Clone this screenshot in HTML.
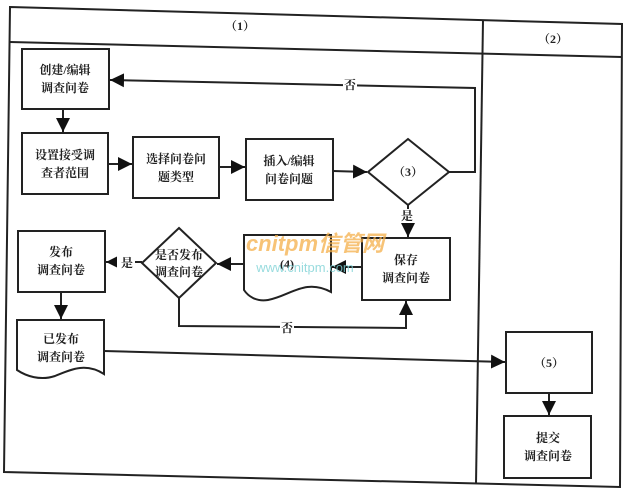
<!DOCTYPE html>
<html><head><meta charset="utf-8"><style>
html,body{margin:0;padding:0;background:#fff;}
svg{display:block}
text{font-family:"Liberation Serif","Noto Serif CJK SC","Noto Sans CJK SC",serif;font-weight:bold;font-size:12px;fill:#222;text-anchor:middle}
</style></head><body>
<svg width="625" height="492" viewBox="0 0 625 492" xmlns="http://www.w3.org/2000/svg">
<defs><marker id="a" viewBox="0 0 10 10" refX="10" refY="5" markerWidth="7" markerHeight="7" orient="auto"><path d="M0,0L10,5L0,10z" fill="#111"/></marker></defs>
<g stroke="#222" stroke-width="2" fill="none">
<!-- frame -->
<path d="M10,7 L622,24 L620,487 L4,472 Z"/>
<line x1="10" y1="42" x2="622" y2="57"/>
<line x1="483" y1="20" x2="476" y2="484"/>
<!-- boxes -->
<rect x="22" y="49" width="87" height="60"/>
<rect x="22" y="133" width="86" height="61"/>
<rect x="133" y="137" width="86" height="61"/>
<rect x="246" y="139" width="87" height="61"/>
<path d="M408,139 L449,172 L408,205 L368,172 Z"/>
<rect x="362" y="238" width="88" height="62"/>
<path d="M244,235 L331,235 L331,292 C305,278 290,296 268,300 C256,302 248,296 244,290 Z"/>
<path d="M179,228 L216,263 L179,298 L142,263 Z"/>
<rect x="18" y="231" width="87" height="61"/>
<path d="M17,320 L104,320 L104,374 C85,362 70,370 55,376 C40,381 26,376 17,370 Z"/>
<rect x="506" y="332" width="86" height="61"/>
<rect x="504" y="416" width="87" height="62"/>
<!-- connectors -->
<line x1="63" y1="109" x2="63" y2="132" marker-end="url(#a)"/>
<line x1="108" y1="164" x2="132" y2="164" marker-end="url(#a)"/>
<line x1="219" y1="167" x2="245" y2="167" marker-end="url(#a)"/>
<line x1="333" y1="171" x2="367" y2="172" marker-end="url(#a)"/>
<polyline points="449,172 475,172 475,88 110,80" marker-end="url(#a)"/>
<line x1="408" y1="205" x2="408" y2="237" marker-end="url(#a)"/>
<line x1="362" y1="267" x2="332" y2="267" marker-end="url(#a)"/>
<line x1="244" y1="264" x2="217" y2="264" marker-end="url(#a)"/>
<line x1="142" y1="262" x2="106" y2="262" marker-end="url(#a)"/>
<polyline points="179,298 179,326 406,328 406,301" marker-end="url(#a)"/>
<line x1="61" y1="292" x2="61" y2="319" marker-end="url(#a)"/>
<line x1="104" y1="351" x2="505" y2="362" marker-end="url(#a)"/>
<line x1="549" y1="393" x2="549" y2="415" marker-end="url(#a)"/>
</g>
<g fill="#fff" stroke="none">
<rect x="343" y="77" width="14" height="14"/>
<rect x="398" y="209" width="18" height="14"/>
<rect x="117" y="255" width="18" height="14"/>
<rect x="280" y="320" width="14" height="14"/>
</g>
<text x="240" y="30">（1）</text>
<text x="553" y="43">（2）</text>
<text x="65" y="74">创建/编辑</text><text x="65" y="92">调查问卷</text>
<text x="65" y="159">设置接受调</text><text x="65" y="177">查者范围</text>
<text x="176" y="163">选择问卷问</text><text x="176" y="181">题类型</text>
<text x="289" y="165">插入/编辑</text><text x="289" y="183">问卷问题</text>
<text x="408" y="176">（3）</text>
<text x="350" y="89">否</text>
<text x="407" y="220">是</text>
<text x="406" y="264">保存</text><text x="406" y="282">调查问卷</text>
<text x="287" y="268">(4)</text>
<text x="179" y="259">是否发布</text><text x="179" y="276">调查问卷</text>
<text x="127" y="267">是</text>
<text x="287" y="332">否</text>
<text x="61" y="256">发布</text><text x="61" y="274">调查问卷</text>
<text x="61" y="343">已发布</text><text x="61" y="361">调查问卷</text>
<text x="549" y="367">（5）</text>
<text x="548" y="442">提交</text><text x="548" y="460">调查问卷</text>
<text x="315" y="251" style="font-family:'Liberation Sans','Noto Sans CJK SC',sans-serif;font-size:22px;font-style:italic;fill:#f5b04a;opacity:.75">cnitpm信管网</text>
<text x="305" y="272" style="font-family:'Liberation Sans',sans-serif;font-size:13px;font-weight:normal;fill:#7fd3d6;opacity:.8">www.cnitpm.com</text>
</svg>
</body></html>
